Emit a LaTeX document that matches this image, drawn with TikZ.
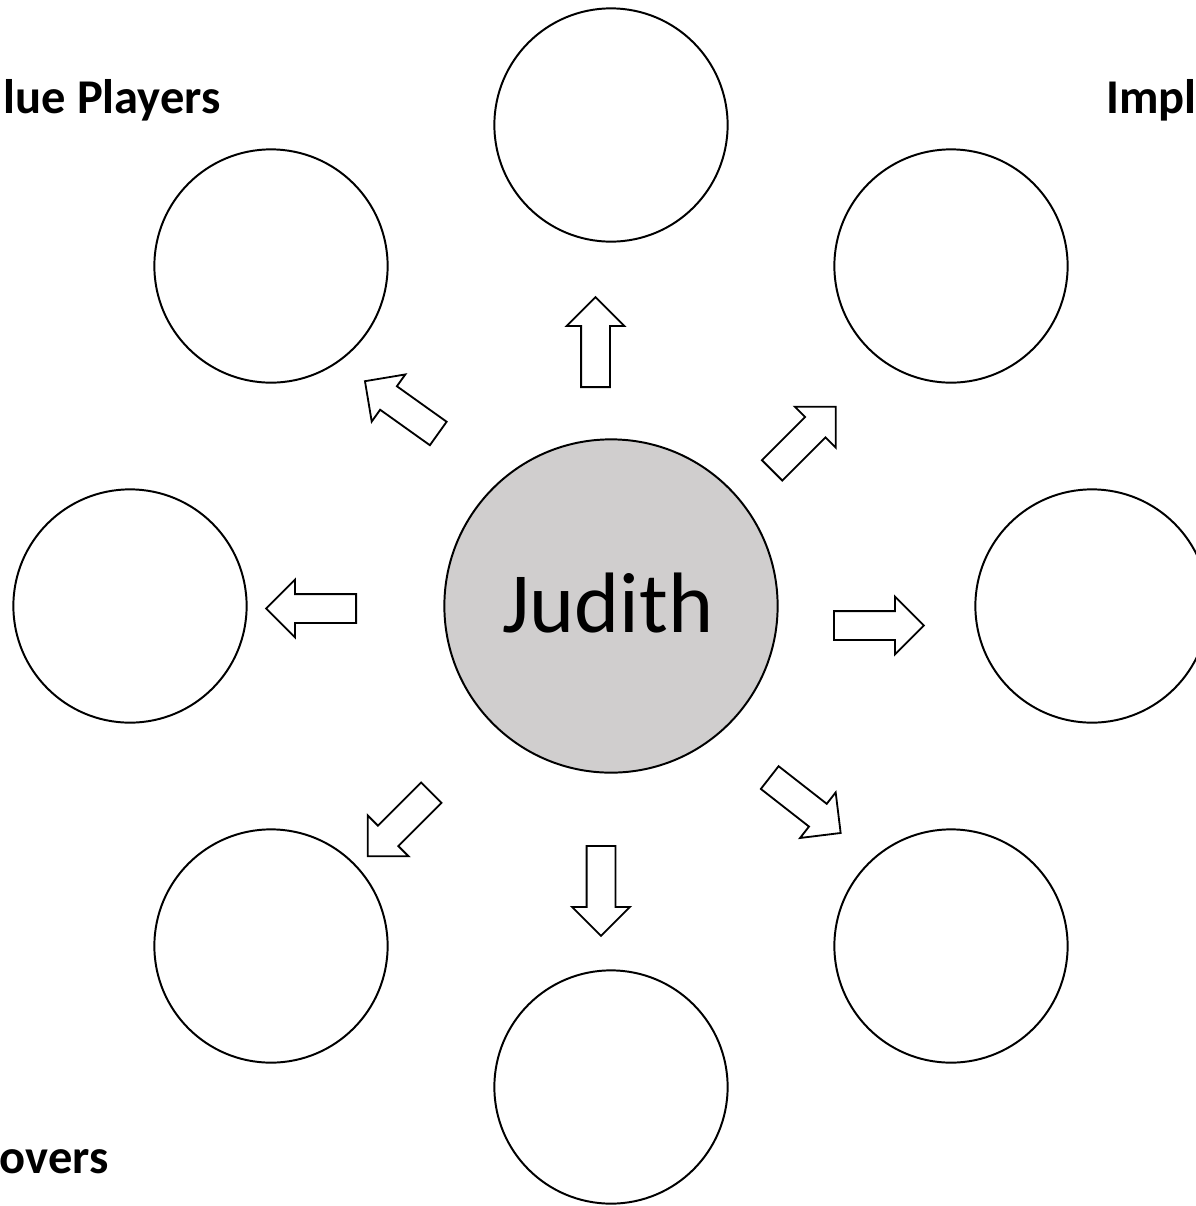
\documentclass[tikz,border=0pt]{standalone}
\usepackage{fontspec}
\setmainfont{Carlito}
\usetikzlibrary{shapes.arrows}
\definecolor{hub}{HTML}{D0CECE}
\tikzset{
  ring/.style={draw, circle, line width=1.4pt, minimum size=5.83cm, inner sep=0pt},
  blk/.style={single arrow, draw, line width=1.3pt, anchor=tail, minimum height=2.25cm,
    inner xsep=0pt, inner ysep=0.3375cm, text height=0pt, text depth=0pt,
    single arrow head extend=0.3625cm, single arrow tip angle=90},
  tag/.style={font=\fontsize{34.5}{42}\selectfont\bfseries, inner sep=0pt}}

\begin{document}
\begin{tikzpicture}[x=0.025cm, y=-0.025cm]
\useasboundingbox (0,0) rectangle (1196,1206);
\clip (0,0) rectangle (1196,1206);
\node[ring, fill=hub, minimum size=8.33cm] (judith) at (611,606) {};
\node[font=\fontsize{61}{73}\selectfont, anchor=base] (name) at (608,632) {Judith};
\foreach \n/\x/\y in {n/611/125, ne/951/266, e/1092/606, se/951/946, s/611/1087, sw/271/946, w/130/606, nw/271/266}
  \node[ring] (\n) at (\x,\y) {};
\foreach \n/\x/\y/\a in {an/595.5/388/90, ane/771.5/471/45, ae/833/625.5/0, ase/769/777/-38,
    as/601/845/-90, asw/432/792/-135, aw/357/608.5/180, anw/439/434/144.5}
  \node[blk, rotate=\a] (\n) at (\x,\y) {};
\node[tag, anchor=base east] (vp) at (221,113) {lue Players};
\node[tag, anchor=base west] (im) at (1106,113) {Impl};
\node[tag, anchor=base east] (mv) at (109,1173) {overs};
\end{tikzpicture}
\end{document}
